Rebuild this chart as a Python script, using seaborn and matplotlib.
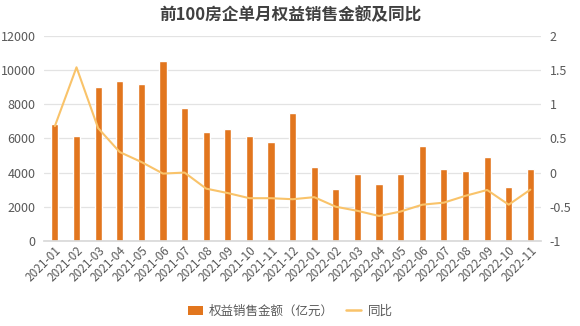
import numpy as np
import pandas as pd
import matplotlib
matplotlib.use("Agg")
import matplotlib.pyplot as plt
import seaborn as sns
from matplotlib.patches import Patch
from matplotlib.lines import Line2D

months = ["2021-01", "2021-02", "2021-03", "2021-04", "2021-05", "2021-06",
          "2021-07", "2021-08", "2021-09", "2021-10", "2021-11", "2021-12",
          "2022-01", "2022-02", "2022-03", "2022-04", "2022-05", "2022-06",
          "2022-07", "2022-08", "2022-09", "2022-10", "2022-11"]
sales = [6870, 6120, 8980, 9350, 9200, 10550, 7770, 6350, 6550, 6160, 5770, 7470,
         4330, 3060, 3890, 3340, 3890, 5530, 4200, 4120, 4900, 3180, 4230]
yoy = [0.68, 1.54, 0.65, 0.30, 0.155, -0.015, 0.0, -0.235, -0.30, -0.375, -0.375, -0.39,
       -0.36, -0.50, -0.56, -0.635, -0.57, -0.47, -0.44, -0.34, -0.255, -0.47, -0.25]
left_ticks = [0, 2000, 4000, 6000, 8000, 10000, 12000]
right_ticks = [-1, -0.5, 0, 0.5, 1, 1.5, 2]

sns.set_theme(style="white")
plt.rcParams['font.family'] = ['Noto Sans CJK SC', 'DejaVu Sans']
plt.rcParams['axes.unicode_minus'] = False

bar_color = "#E2761E"
line_color = "#F9C36A"
text_color = "#595959"

df = pd.DataFrame({"month": months, "sales": sales, "yoy": yoy, "idx": np.arange(len(months))})

fig = plt.figure(figsize=(5.8, 3.26), dpi=100)
ax = fig.add_axes([0.076, 0.261, 0.857, 0.629])
sns.barplot(data=df, x="month", y="sales", color=bar_color, width=0.33,
            saturation=1, ax=ax)
ax.set_ylim(0, 12000)
ax.set_yticks(left_ticks)
ax.yaxis.grid(True, color="#E3E3E3", linewidth=0.9)
ax.set_axisbelow(True)
ax.set_xlabel("")
ax.set_ylabel("")
for s in ["top", "right", "left"]:
    ax.spines[s].set_visible(False)
ax.spines["bottom"].set_color("#D9D9D9")
ax.tick_params(axis="y", labelsize=9, colors=text_color, length=0, pad=6)
ax.tick_params(axis="x", labelsize=8.5, colors=text_color, length=0, pad=2)
ax.set_xticks(range(len(months)))
ax.set_xticklabels(months, rotation=45, ha="right", rotation_mode="anchor")

ax2 = ax.twinx()
sns.lineplot(data=df, x="idx", y="yoy", color=line_color, linewidth=1.5, ax=ax2)
ax2.set_ylim(-1, 2)
ax2.set_yticks(right_ticks)
ax2.set_yticklabels(["-1", "-0.5", "0", "0.5", "1", "1.5", "2"])
ax2.set_ylabel("")
ax2.set_xlabel("")
for s in ["top", "right", "left", "bottom"]:
    ax2.spines[s].set_visible(False)
ax2.tick_params(axis="y", labelsize=9, colors=text_color, length=0, pad=6)
ax.set_xlim(-0.5, len(months) - 0.5)

fig.suptitle("前100房企单月权益销售金额及同比", x=0.5, y=0.98, fontsize=12,
             fontweight="bold", color="#404040")

handles = [Patch(facecolor=bar_color, edgecolor="none"),
           Line2D([0], [0], color=line_color, linewidth=1.8)]
fig.legend(handles, ["权益销售金额（亿元）", "同比"], loc="center",
           bbox_to_anchor=(0.5, 0.045), ncol=2, frameon=False, fontsize=9,
           labelcolor=text_color, handlelength=1.2, handleheight=0.8,
           columnspacing=1.0, handletextpad=0.5)

fig.savefig("out.png", dpi=100, facecolor="white")
